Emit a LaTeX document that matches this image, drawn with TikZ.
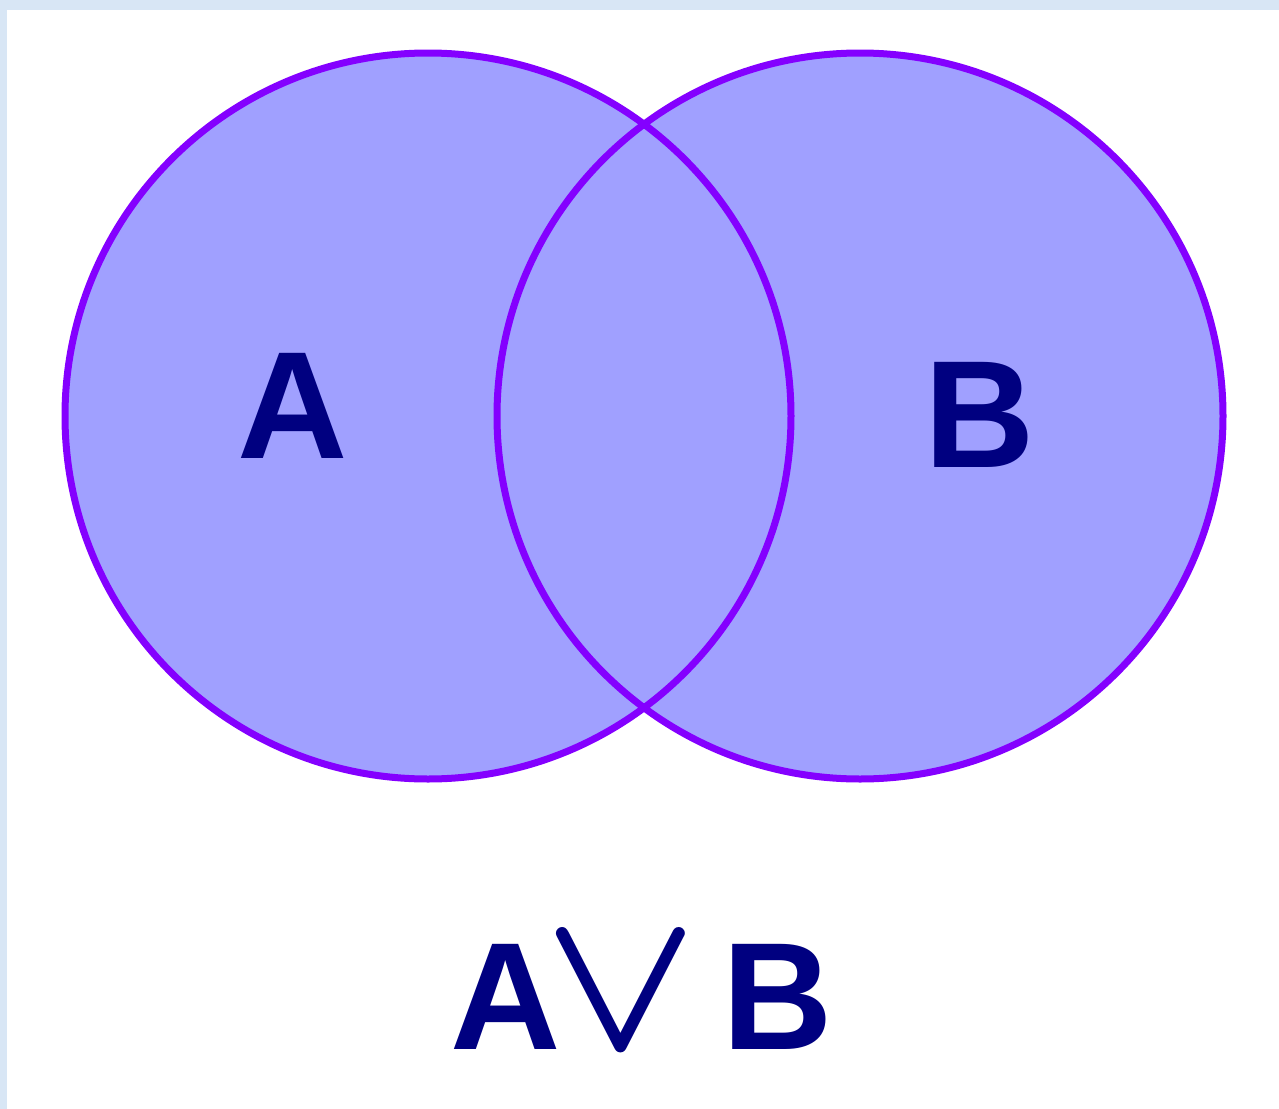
\documentclass[tikz,border=0pt]{standalone}
\usepackage{fontspec}
\setmainfont{Liberation Sans}
\definecolor{edgeblue}{RGB}{216,230,245}
\definecolor{ringpurple}{RGB}{132,0,255}
\definecolor{setfill}{RGB}{160,160,255}
\definecolor{labelnavy}{RGB}{0,0,128}
\begin{document}
\begin{tikzpicture}[x=0.02cm,y=-0.02cm,
  ring/.style={draw=ringpurple,line width=7*0.02cm},
  setlabel/.style={text=labelnavy,font=\fontsize{87}{90}\selectfont\bfseries,inner sep=0pt,anchor=base}]
\useasboundingbox (0,0) rectangle (1279,1109);
\fill[edgeblue] (0,0) rectangle (1279,1109);
\fill[white] (7,10) rectangle (1279,1109);
\fill[setfill] (428,416) circle (363);
\fill[setfill] (860,416) circle (363);
\draw[ring] (428,416) circle (363);
\draw[ring] (860,416) circle (363);
\node[setlabel] (la) at (293,458) {A};
\node[setlabel] (lb) at (980,467) {B};
\node[setlabel] (expr) at (642,1049) {A\hspace{-10pt}{\normalsize\boldmath\scalebox{11.5}{$\vee$}}\hspace{14pt}B};
\end{tikzpicture}
\end{document}
